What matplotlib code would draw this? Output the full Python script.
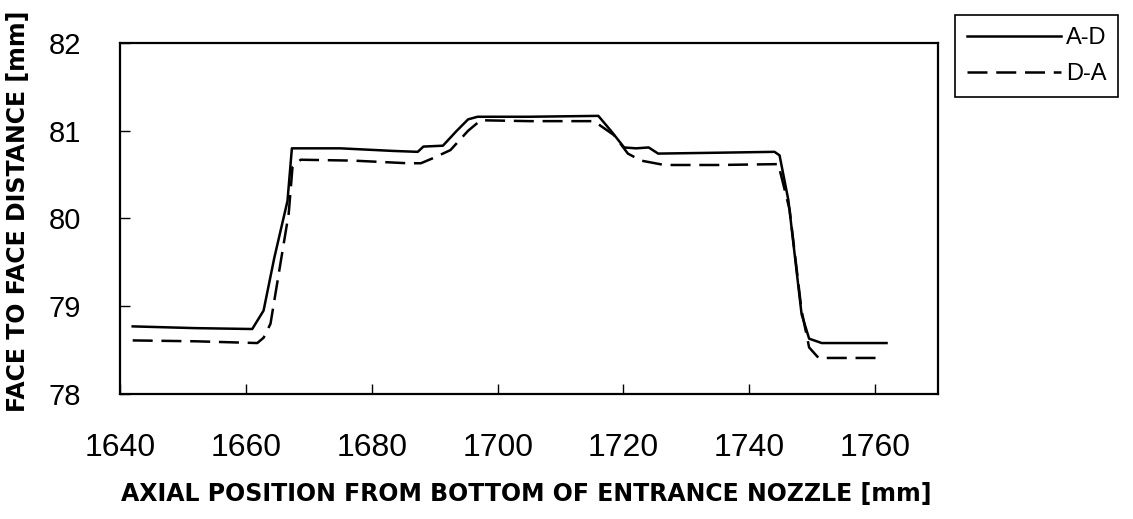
import matplotlib
matplotlib.use("Agg")
import matplotlib.pyplot as plt

plt.rcParams["font.family"] = ["Liberation Sans", "DejaVu Sans"]

# A-D scan (solid)
ad_x = [1642.0, 1652.0, 1661.0, 1662.8, 1664.5, 1666.6, 1667.3, 1675.0, 1683.5, 1687.3,
        1688.2, 1691.3, 1693.5, 1695.3, 1696.8, 1705.0, 1716.0, 1718.0, 1720.1, 1722.0,
        1724.0, 1725.5, 1735.0, 1744.0, 1744.8, 1746.2, 1748.3, 1749.5, 1751.5, 1761.8]
ad_y = [78.77, 78.75, 78.74, 78.95, 79.55, 80.20, 80.80, 80.80, 80.77, 80.76,
        80.82, 80.83, 81.00, 81.13, 81.16, 81.16, 81.17, 81.00, 80.81, 80.80,
        80.81, 80.74, 80.75, 80.76, 80.72, 80.21, 78.91, 78.63, 78.58, 78.58]

# D-A scan (dashed)
da_x = [1642.0, 1652.0, 1661.8, 1662.8, 1663.9, 1666.8, 1667.4, 1668.7, 1677.0, 1685.7,
        1687.8, 1689.8, 1692.5, 1695.3, 1697.3, 1705.0, 1715.3, 1718.5, 1720.7, 1722.8,
        1726.5, 1735.0, 1744.6, 1746.4, 1748.3, 1749.5, 1751.0, 1760.5]
da_y = [78.61, 78.60, 78.58, 78.64, 78.80, 80.06, 80.59, 80.67, 80.66, 80.63,
        80.63, 80.69, 80.78, 81.00, 81.12, 81.11, 81.11, 80.95, 80.74, 80.66,
        80.61, 80.61, 80.62, 80.10, 78.95, 78.53, 78.41, 78.41]

x_ticks = [1640, 1660, 1680, 1700, 1720, 1740, 1760]
y_ticks = [78, 79, 80, 81, 82]

fig = plt.figure(figsize=(11.33, 5.19), dpi=100)
ax = fig.add_axes([0.106, 0.241, 0.722, 0.676])

ax.plot(ad_x, ad_y, color="black", lw=1.8, label="A-D")
ax.plot(da_x, da_y, color="black", lw=1.8, dashes=(8, 3.5), label="D-A")

ax.set_xlim(1640, 1770)
ax.set_ylim(78, 82)
ax.set_xticks(x_ticks)
ax.set_yticks(y_ticks)
ax.tick_params(axis="x", direction="in", length=7, width=1, labelsize=23, pad=28)
ax.tick_params(axis="y", direction="in", length=7, width=1, labelsize=21, pad=28)
for s in ax.spines.values():
    s.set_linewidth(1.6)

lab_font = dict(family=["DejaVu Sans"], fontsize=17, fontweight="bold")
ax.set_xlabel("AXIAL POSITION FROM BOTTOM OF ENTRANCE NOZZLE [mm]", **lab_font)
ax.xaxis.set_label_coords(0.497, -0.25)
ax.set_ylabel("FACE TO FACE DISTANCE [mm]", **lab_font)
ax.yaxis.set_label_coords(-0.11, 0.52)

leg = fig.legend(loc="upper left", bbox_to_anchor=(0.843, 0.971), fontsize=17,
                 handlelength=4.0, handletextpad=0.2, labelspacing=0.6,
                 borderpad=0.5, borderaxespad=0, fancybox=False, framealpha=1,
                 edgecolor="black")
leg.get_frame().set_linewidth(1.2)

fig.savefig("out.png", dpi=100)
